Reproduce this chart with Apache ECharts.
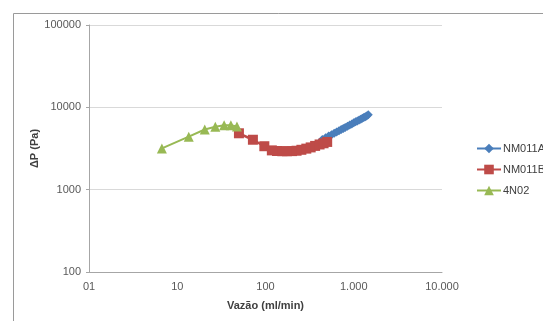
<!DOCTYPE html>
<html>
<head>
<meta charset="utf-8">
<script src="https://cdn.jsdelivr.net/npm/echarts@6/dist/echarts.min.js"></script>
<style>html,body{margin:0;padding:0;background:#fff}#c{width:543px;height:321px}</style>
</head>
<body>
<div id="c"></div>
<script>
// ---- data ----
const seriesNames = ['NM011A', 'NM011B', '4N02'];
const nm011aX = [440, 480, 520, 560, 600, 640, 680, 720, 760, 800, 850, 900, 950, 1000, 1050, 1100, 1150, 1200, 1250, 1300, 1350, 1400, 1460];
const nm011aY = [4060, 4260, 4470, 4650, 4840, 5020, 5200, 5370, 5550, 5700, 5900, 6100, 6290, 6480, 6660, 6840, 7020, 7190, 7360, 7520, 7690, 7850, 8100];
const nm011bX = [50, 72, 97, 118, 135, 155, 175, 200, 225, 255, 290, 325, 365, 410, 455, 500];
const nm011bY = [4840, 4040, 3370, 3000, 2950, 2930, 2930, 2940, 2970, 3050, 3150, 3260, 3400, 3540, 3660, 3800];
const n402X = [6.7, 13.5, 20.5, 27, 34, 40.5, 47.5];
const n402Y = [3170, 4400, 5380, 5820, 6050, 6050, 5850];
const xTickValues = [1, 10, 100, 1000, 10000];
const xTickLabels = ['01', '10', '100', '1.000', '10.000'];
const yTickValues = [100, 1000, 10000, 100000];
const yTickLabels = ['100', '1000', '10000', '100000'];
const xTitle = 'Vazão (ml/min)';
const yTitle = 'ΔP (Pa)';

const zip = (xs, ys) => xs.map((x, i) => [x, ys[i]]);
const lab = (vals, labels) => v => {
  for (let i = 0; i < vals.length; i++) if (Math.abs(Math.log10(v) - Math.log10(vals[i])) < 1e-6) return labels[i];
  return '';
};
const font = 'Liberation Sans, Arial, sans-serif';
const chart = echarts.init(document.getElementById('c'), null, {renderer: 'canvas'});
chart.setOption({
  animation: false,
  backgroundColor: '#fff',
  textStyle: {fontFamily: font},
  graphic: [{
    type: 'rect', left: 11, top: 11, shape: {width: 600, height: 400},
    style: {fill: 'none', stroke: '#9a9a9a', lineWidth: 1}, silent: true, z: -1
  }],
  grid: {left: 89, right: 101, top: 25, bottom: 49, containLabel: false},
  legend: {
    orient: 'vertical', left: 471, top: 138, width: 200, itemGap: 10, itemWidth: 24, itemHeight: 12,
    textStyle: {fontFamily: font, fontSize: 11, color: '#404040', overflow: 'none', width: 100, padding: [0, 0, 0, -3]},
    data: seriesNames
  },
  xAxis: {
    type: 'log', logBase: 10, min: 1, max: 10000,
    name: xTitle, nameLocation: 'middle', nameGap: 28, nameMoveOverlap: false,
    nameTextStyle: {fontFamily: font, fontSize: 11, fontWeight: 'bold', color: '#404040'},
    axisLine: {show: true, lineStyle: {color: '#a6a6a6', width: 1}},
    axisTick: {show: false},
    minorTick: {show: false},
    splitLine: {show: false},
    axisLabel: {margin: 9, fontFamily: font, fontSize: 11, color: '#595959', formatter: lab(xTickValues, xTickLabels), showMinLabel: true, showMaxLabel: true}
  },
  yAxis: {
    type: 'log', logBase: 10, min: 100, max: 100000,
    name: yTitle, nameLocation: 'middle', nameGap: 49, nameRotate: 90, nameMoveOverlap: false,
    nameTextStyle: {fontFamily: font, fontSize: 11, fontWeight: 'bold', color: '#404040'},
    axisLine: {show: true, lineStyle: {color: '#a6a6a6', width: 1}},
    axisTick: {show: true, length: 3, lineStyle: {color: '#a6a6a6'}},
    splitLine: {show: true, lineStyle: {color: '#d9d9d9', width: 1}},
    axisLabel: {margin: 8, fontFamily: font, fontSize: 11, color: '#595959', formatter: lab(yTickValues, yTickLabels)}
  },
  series: [
    {name: seriesNames[0], type: 'line', data: zip(nm011aX, nm011aY), symbol: 'diamond', symbolSize: 9,
     itemStyle: {color: '#4a7ebb'}, lineStyle: {color: '#4a7ebb', width: 2.5}, z: 3},
    {name: seriesNames[1], type: 'line', data: zip(nm011bX, nm011bY), symbol: 'rect', symbolSize: 10,
     itemStyle: {color: '#be4b48'}, lineStyle: {color: '#be4b48', width: 2.5}, z: 4},
    {name: seriesNames[2], type: 'line', data: zip(n402X, n402Y), symbol: 'triangle', symbolSize: 10,
     itemStyle: {color: '#98b954'}, lineStyle: {color: '#98b954', width: 2}, z: 5}
  ]
});
</script>
</body>
</html>
